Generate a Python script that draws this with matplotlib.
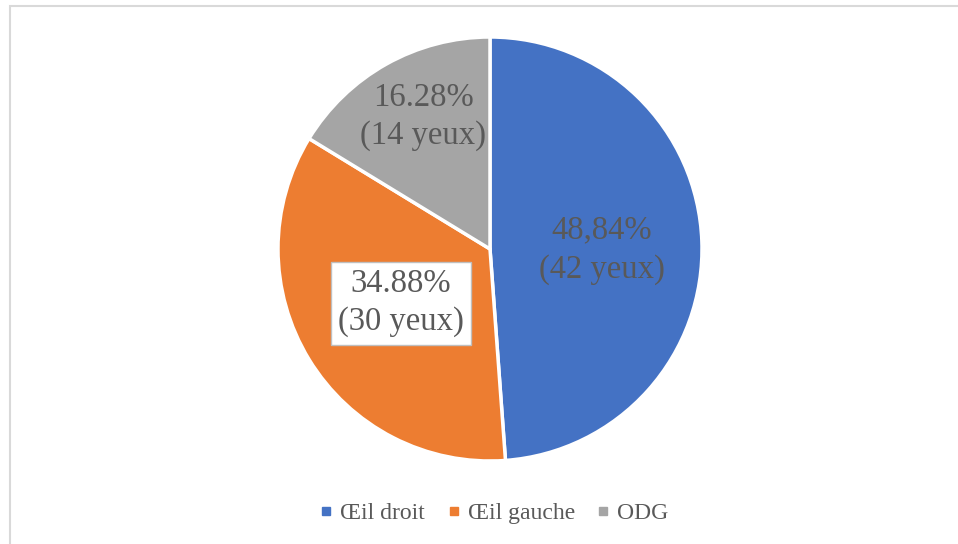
import matplotlib
matplotlib.use("Agg")
import matplotlib.pyplot as plt
from matplotlib.lines import Line2D

categories = ["Œil droit", "Œil gauche", "ODG"]
counts = [42, 30, 14]
pct_labels = ["48,84%", "34.88%", "16.28%"]
colors = ["#4472C4", "#ED7D31", "#A5A5A5"]

# label centres in pie units (radius = 1)
label_pos = [(0.528, -0.006), (-0.42, -0.255), (-0.316, 0.624)]

plt.rcParams['font.family'] = ['Liberation Serif', 'DejaVu Serif']
W, H = 958, 544
fig = plt.figure(figsize=(W / 100, H / 100), dpi=100)
fig.patch.set_facecolor('white')

# outer border (light gray, only left/top visible)
border = plt.Rectangle((9.5 / W, -0.1), 1.2, 1 - 6.5 / H + 0.1, transform=fig.transFigure,
                       fill=False, edgecolor='#d9d9d9', linewidth=1.5)
fig.add_artist(border)

cx, cy, r = 490, 249, 212
ax = fig.add_axes([(cx - r) / W, (H - cy - r) / H, 2 * r / W, 2 * r / H])
wedges, _ = ax.pie(counts, colors=colors, startangle=90, counterclock=False,
                   radius=1, wedgeprops=dict(edgecolor='white', linewidth=2.5))
ax.set_xlim(-1, 1)
ax.set_ylim(-1, 1)
ax.set_aspect('equal')
ax.axis('off')

for i, w in enumerate(wedges):
    x, y = label_pos[i]
    txt = f"{pct_labels[i]}\n({counts[i]} yeux)"
    kw = {}
    ls = 1.38
    if i == 1:
        kw['bbox'] = dict(boxstyle='square,pad=0.22', facecolor='white', edgecolor='#bfbfbf', linewidth=1)
        ls = 1.32
    if i == 2:
        ls = 1.3
    ax.text(x, y, txt, ha='center', va='center', fontsize=23.5, color='#595959',
            linespacing=ls, **kw)

handles = [Line2D([0], [0], marker='s', linestyle='none', markersize=6,
                  markerfacecolor=c, markeredgecolor=c) for c in colors]
fig.legend(handles, categories, loc='center', bbox_to_anchor=(494 / W, 1 - 513 / H),
           ncol=3, frameon=False, fontsize=17, labelcolor='#595959',
           handlelength=0.6, handletextpad=0.3, columnspacing=0.9)

fig.savefig('out.png', dpi=100, facecolor='white')
